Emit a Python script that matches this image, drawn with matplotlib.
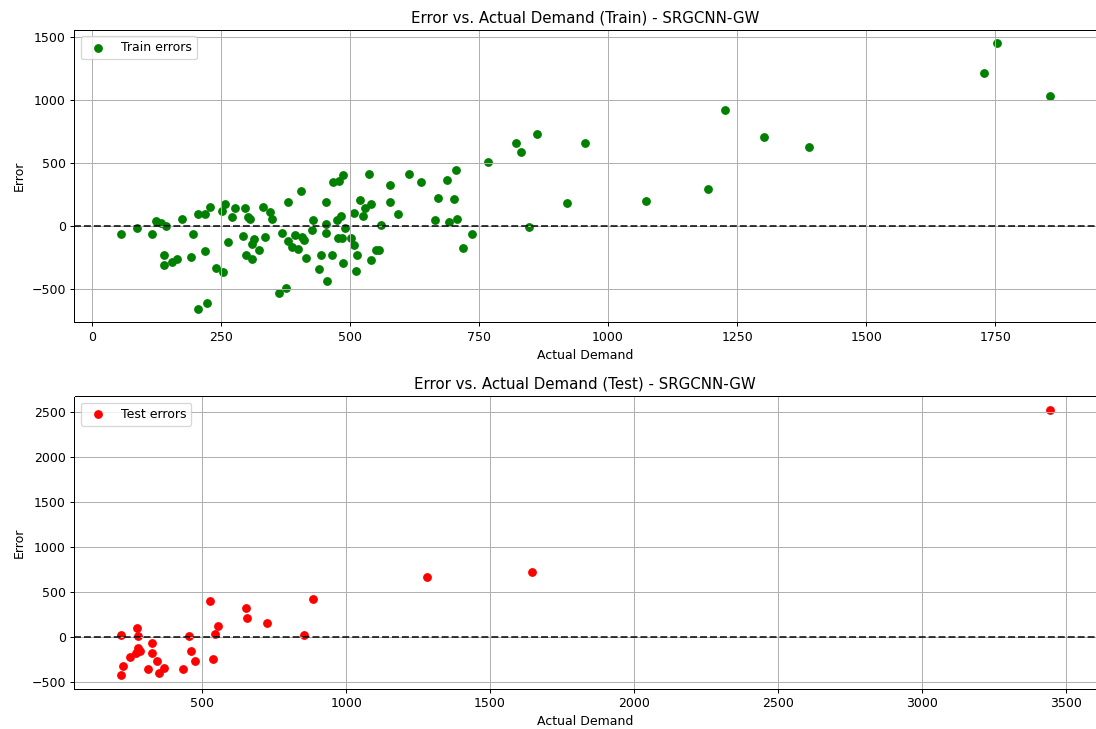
import matplotlib
matplotlib.use("Agg")
import matplotlib.pyplot as plt

# train set: actual demand vs. prediction error
train_actual = [56.7, 87.5, 116.4, 124.1, 133.8, 143.4, 139.6, 139.6, 156.3, 166.0,
                174.2, 191.5, 196.8, 206.4, 219.9, 206.4, 223.8, 219.2, 229.6, 241.1,
                255.2, 252.7, 258.5, 264.8, 272.0, 278.3, 293.2, 296.3, 302.0, 306.7,
                299.0, 310.5, 313.6, 310.5, 324.0, 331.0, 345.8, 350.2, 336.2, 368.4,
                381.1, 381.1, 388.8, 394.0, 363.1, 376.0, 406.1, 408.0, 411.3, 399.8,
                415.8, 426.8, 428.7, 443.5, 440.8, 455.7, 453.2, 453.7, 454.3, 465.9,
                466.7, 478.8, 486.5, 475.5, 483.2, 490.4, 477.5, 484.0, 486.0, 502.5,
                509.0, 512.9, 511.0, 509.0, 520.6, 526.4, 528.9, 540.5, 538.0, 540.5,
                550.7, 556.5, 560.3, 578.5, 578.5, 592.5, 615.1, 637.4, 670.2, 665.2,
                687.6, 704.9, 702.4, 692.2, 707.6, 736.5, 719.7, 766.6, 821.9, 831.5,
                861.8, 846.4, 920.8, 955.5, 1073.8, 1192.6, 1227.3, 1302.5, 1390.0, 1728.0,
                1753.5, 1855.0]
train_error = [-60, -14, -60, 41, 25, 2, -229, -309, -285, -261,
               57, -243, -60, 99, 99, -656, -613, -200, 147, -333,
               -367, 115, 171, -128, 68, 139, -78, 139, 71, 57,
               -232, -261, -104, -142, -189, 150, 113, 55, -88, -54,
               193, -115, -163, -68, -534, -489, 274, -84, -110, -181,
               -251, -30, 44, -232, -343, -438, 190, 15, -54, -232,
               349, 354, 402, 49, 79, -14, -99, -99, -293, -99,
               -152, -232, -356, 105, 203, 76, 139, 171, 410, -271,
               -189, -189, 7, 322, 193, 97, 410, 346, 219, 44,
               365, 447, 211, 28, 57, -60, -171, 511, 656, 585,
               728, -4, 179, 656, 200, 294, 922, 707, 624, 1211,
               1449, 1028]

# test set
test_actual = [527.7, 652.0, 655.6, 723.4, 554.0, 545.0, 536.7, 455.0, 459.5, 473.4,
               434.3, 218.6, 272.8, 277.3, 277.3, 283.2, 269.3, 248.6, 223.4, 217.5,
               325.7, 325.7, 344.4, 311.9, 348.9, 367.2, 883.8, 852.7, 1281.5, 1644.5,
               3443.6]
test_error = [397, 326, 207, 152, 126, 30, -248, 11, -152, -263,
              -352, 22, 97, 11, -119, -152, -174, -226, -322, -426,
              -63, -181, -267, -352, -397, -341, 426, 26, 670, 726,
              2530]

W, H, DPI = 1096, 729, 90
fig = plt.figure(figsize=(W / DPI, H / DPI), dpi=DPI)

left, width, height = 74.5 / W, 1021.5 / W, 292 / H

ax1 = fig.add_axes([left, 1 - 322 / H, width, height])
ax1.scatter(train_actual, train_error, color="green", label="Train errors")
ax1.axhline(0, color="black", linestyle="--", alpha=0.8)
ax1.set_title("Error vs. Actual Demand (Train) - SRGCNN-GW")
ax1.set_xlabel("Actual Demand")
ax1.set_ylabel("Error")
ax1.legend(loc="upper left")
ax1.grid(True)

ax2 = fig.add_axes([left, 1 - 688.5 / H, width, height])
ax2.scatter(test_actual, test_error, color="red", label="Test errors")
ax2.axhline(0, color="black", linestyle="--", alpha=0.8)
ax2.set_title("Error vs. Actual Demand (Test) - SRGCNN-GW")
ax2.set_xlabel("Actual Demand")
ax2.set_ylabel("Error")
ax2.legend(loc="upper left")
ax2.grid(True)

fig.savefig("out.png", dpi=DPI)
